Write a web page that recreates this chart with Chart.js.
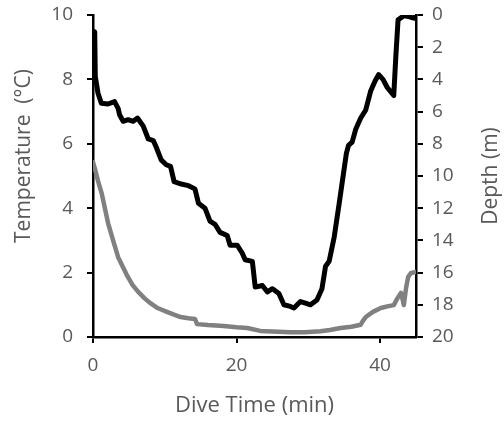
<!DOCTYPE html>
<html lang="en">
<head>
<meta charset="UTF-8">
<title>Dive profile</title>
<script src="https://cdn.jsdelivr.net/npm/chart.js@4.4.1/dist/chart.umd.min.js"></script>
<style>
  html, body { margin: 0; padding: 0; background: #fff; }
  #wrap { width: 504px; height: 423px; }
</style>
</head>
<body>
<div id="wrap"><canvas id="diveChart" width="504" height="423"></canvas></div>
<script>
// depth trace (black line, right axis, metres)
var depthTime = [0, 0.24, 0.32, 0.7, 1.16, 2.1, 3.0, 3.5, 3.7, 4.2, 4.9, 5.6, 6.2, 7.0, 7.7, 8.4, 8.8, 9.5, 10.2, 10.8,
  11.3, 12.3, 13.3, 14.2, 14.7, 15.6, 16.3, 17.0, 17.7, 18.7, 19.1, 20.1, 20.8, 21.2, 22.2, 22.6, 23.6, 24.3, 25.0, 25.9,
  26.6, 27.5, 28.0, 28.9, 29.6, 30.3, 31.2, 31.9, 32.4, 32.9, 33.6, 34.3, 35.3, 35.6, 36.1, 36.6, 37.3,
  38.0, 38.7, 39.3, 39.8, 40.4, 41.0, 41.9, 42.2, 42.5, 43.3, 44.0, 44.7, 45.0];
var depthValues = [1.0, 1.04, 3.83, 4.86, 5.48, 5.53, 5.38, 5.8, 6.2, 6.6, 6.5, 6.6, 6.4, 6.9, 7.7, 7.8, 8.2, 9.0, 9.3, 9.4,
  10.35, 10.5, 10.6, 10.8, 11.7, 12.0, 12.8, 13.0, 13.5, 13.7, 14.3, 14.3, 14.8, 15.2, 15.3, 16.9, 16.8, 17.2, 17.0, 17.3,
  18.0, 18.1, 18.2, 17.8, 17.9, 18.0, 17.7, 17.0, 15.6, 15.3, 13.8, 11.7, 8.6, 8.1, 7.9, 7.1, 6.4,
  5.9, 4.7, 4.1, 3.7, 4.0, 4.5, 5.0, 2.5, 0.3, 0.05, 0.1, 0.2, 0.05];

// temperature trace (grey line, left axis, deg C)
var tempTime = [0, 0.3, 0.7, 1.2, 2.1, 2.8, 3.5, 4.7, 5.5, 6.3, 7.2, 8.0, 9.0, 10.3, 11.2, 12.2, 13.3, 14.2, 14.5, 16.0,
  18.2, 20.0, 21.5, 23.3, 25.0, 27.5, 29.5, 31.7, 33.0, 34.5, 36.0, 37.3, 37.6, 38.0, 39.0, 40.1, 41.0, 41.9, 42.4, 42.9,
  43.1, 43.3, 43.6, 43.9, 44.3, 45.0];
var tempValues = [5.43, 5.2, 4.85, 4.47, 3.54, 3.0, 2.48, 1.93, 1.62, 1.40, 1.2, 1.05, 0.9, 0.78, 0.70, 0.62, 0.58, 0.56, 0.40, 0.37,
  0.34, 0.30, 0.28, 0.19, 0.17, 0.15, 0.15, 0.18, 0.22, 0.28, 0.32, 0.38, 0.5, 0.62, 0.78, 0.90, 0.95, 0.99, 1.2, 1.37,
  1.2, 0.99, 1.5, 1.86, 1.99, 2.02];

var xTicks = [0, 20, 40];

var FONT = '"Open Sans", "DejaVu Sans", sans-serif';
var TEXT = '#595959';

function toPoints(xs, ys) {
  var pts = [];
  for (var i = 0; i < xs.length; i++) pts.push({ x: xs[i], y: ys[i] });
  return pts;
}

// fixed axis widths, no extra room for the end labels
function fitY(width) {
  return function (s) {
    s.width = width;
    s.paddingTop = 0;
    s.paddingBottom = 0;
  };
}

// y axis titles, both reading bottom-to-top like the original
var yTitles = {
  id: 'yTitles',
  afterDraw: function (chart) {
    var ctx = chart.ctx;
    var area = chart.chartArea;
    ctx.save();
    ctx.fillStyle = TEXT;
    ctx.font = '21px ' + FONT;
    ctx.textAlign = 'center';
    ctx.textBaseline = 'middle';
    [['Temperature  (\u00B0C)', 24, 156], ['Depth (m)', 491, (area.top + area.bottom) / 2]].forEach(function (t) {
      ctx.save();
      ctx.translate(t[1], t[2]);
      ctx.rotate(-Math.PI / 2);
      ctx.fillText(t[0], 0, 0);
      ctx.restore();
    });
    ctx.restore();
  }
};

new Chart(document.getElementById('diveChart'), {
  type: 'line',
  data: {
    datasets: [{
      label: 'Temperature',
      data: toPoints(tempTime, tempValues),
      yAxisID: 'y',
      borderColor: '#808080',
      borderWidth: 4.5,
      pointRadius: 0,
      borderJoinStyle: 'round',
      borderCapStyle: 'round'
    }, {
      label: 'Depth',
      data: toPoints(depthTime, depthValues),
      yAxisID: 'y1',
      borderColor: '#000000',
      borderWidth: 5,
      pointRadius: 0,
      borderJoinStyle: 'round',
      borderCapStyle: 'round'
    }]
  },
  options: {
    responsive: false,
    devicePixelRatio: 1,
    animation: false,
    layout: { padding: { top: 15, left: 0, right: 0, bottom: 0 } },
    plugins: { legend: { display: false }, tooltip: { enabled: false } },
    scales: {
      x: {
        type: 'linear',
        min: 0,
        max: 45,
        afterBuildTicks: function (s) { s.ticks = xTicks.map(function (v) { return { value: v }; }); },
        afterFit: function (s) { s.height = 86; },
        grid: { drawOnChartArea: false, color: '#000', lineWidth: 2, tickLength: 6 },
        border: { color: '#000', width: 2.5 },
        ticks: { color: TEXT, font: { family: FONT, size: 19 }, padding: 11 },
        title: { display: true, text: 'Dive Time (min)', color: TEXT, font: { family: FONT, size: 22 }, padding: { top: 0, bottom: 4 } }
      },
      y: {
        position: 'left',
        min: 0,
        max: 10,
        afterFit: fitY(93),
        grid: { drawOnChartArea: false, color: '#000', lineWidth: 2, tickLength: 6 },
        border: { color: '#000', width: 2.5 },
        ticks: { stepSize: 2, color: TEXT, font: { family: FONT, size: 19 }, padding: 14 }
      },
      y1: {
        position: 'right',
        min: 0,
        max: 20,
        reverse: true,
        afterFit: fitY(88),
        grid: { drawOnChartArea: false, color: '#000', lineWidth: 2, tickLength: 7 },
        border: { color: '#000', width: 2.5 },
        ticks: { stepSize: 2, color: TEXT, font: { family: FONT, size: 19 }, padding: 9 }
      }
    }
  },
  plugins: [yTitles]
});
</script>
</body>
</html>
